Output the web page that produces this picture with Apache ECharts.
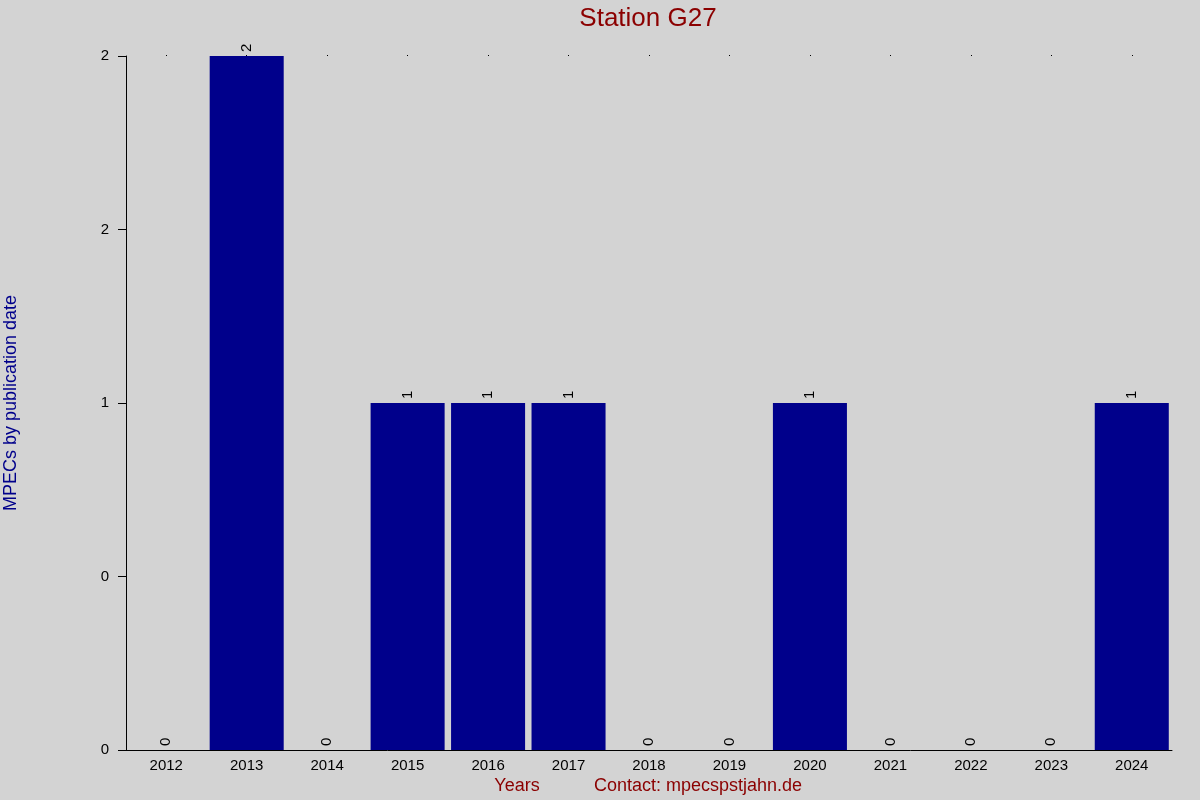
<!DOCTYPE html>
<html><head><meta charset="utf-8">
<script src="https://cdn.jsdelivr.net/npm/echarts@6/dist/echarts.min.js"></script>
<style>html,body{margin:0;padding:0;background:#d3d3d3}#c{width:1200px;height:800px}</style>
</head><body><div id="c"></div>
<script>
const years = ['2012','2013','2014','2015','2016','2017','2018','2019','2020','2021','2022','2023','2024'];
const mpecs = [0,2,0,1,1,1,0,0,1,0,0,0,1];
const yTickLabels = ['0','0','1','2','2'];

const chart = echarts.init(document.getElementById('c'));
const F = 'Liberation Sans, Arial, sans-serif';
chart.setOption({
  backgroundColor:'#d3d3d3',
  animation:false,
  grid:{left:126,right:28,top:56,bottom:50},
  xAxis:[{type:'category',data:years,
    axisLine:{show:true,lineStyle:{color:'#000',width:1}},
    axisTick:{show:false},
    axisLabel:{color:'#000',fontSize:15,fontFamily:F,margin:8}},
   {type:'category',data:years,position:'top',
    axisLine:{show:false},
    axisTick:{show:true,alignWithLabel:true,length:1,lineStyle:{color:'#000'}},
    axisLabel:{show:false}}],
  yAxis:{type:'value',min:0,max:2,interval:0.5,
    axisLine:{show:true,lineStyle:{color:'#000',width:1}},
    axisTick:{show:true,length:8,lineStyle:{color:'#000'}},
    splitLine:{show:false},
    axisLabel:{color:'#000',fontSize:15,fontFamily:F,margin:17,
      formatter:(v)=>yTickLabels[Math.round(v/0.5)]}},
  series:[{type:'bar',data:mpecs,barCategoryGap:'8%',
    itemStyle:{color:'#00008b'},
    label:{show:true,position:'top',rotate:90,align:'left',verticalAlign:'middle',distance:4,
      color:'#000',fontSize:15,fontFamily:F}}],
  graphic:[
    {type:'text',x:648,y:19,
      style:{text:'Station G27',fill:'#8b0000',fontSize:26,fontFamily:F,
        textAlign:'center',textVerticalAlign:'middle'}},
    {type:'text',x:11,y:403,rotation:Math.PI/2,
      style:{text:'MPECs by publication date',fill:'#00008b',fontSize:18,fontFamily:F,
        textAlign:'center',textVerticalAlign:'middle'}},
    {type:'text',x:517,y:786,style:{text:'Years',fill:'#8b0000',fontSize:18,fontFamily:F,
        textAlign:'center',textVerticalAlign:'middle'}},
    {type:'text',x:698,y:786,style:{text:'Contact: mpecspstjahn.de',fill:'#8b0000',fontSize:18,fontFamily:F,
        textAlign:'center',textVerticalAlign:'middle'}}
  ]
});
</script></body></html>
